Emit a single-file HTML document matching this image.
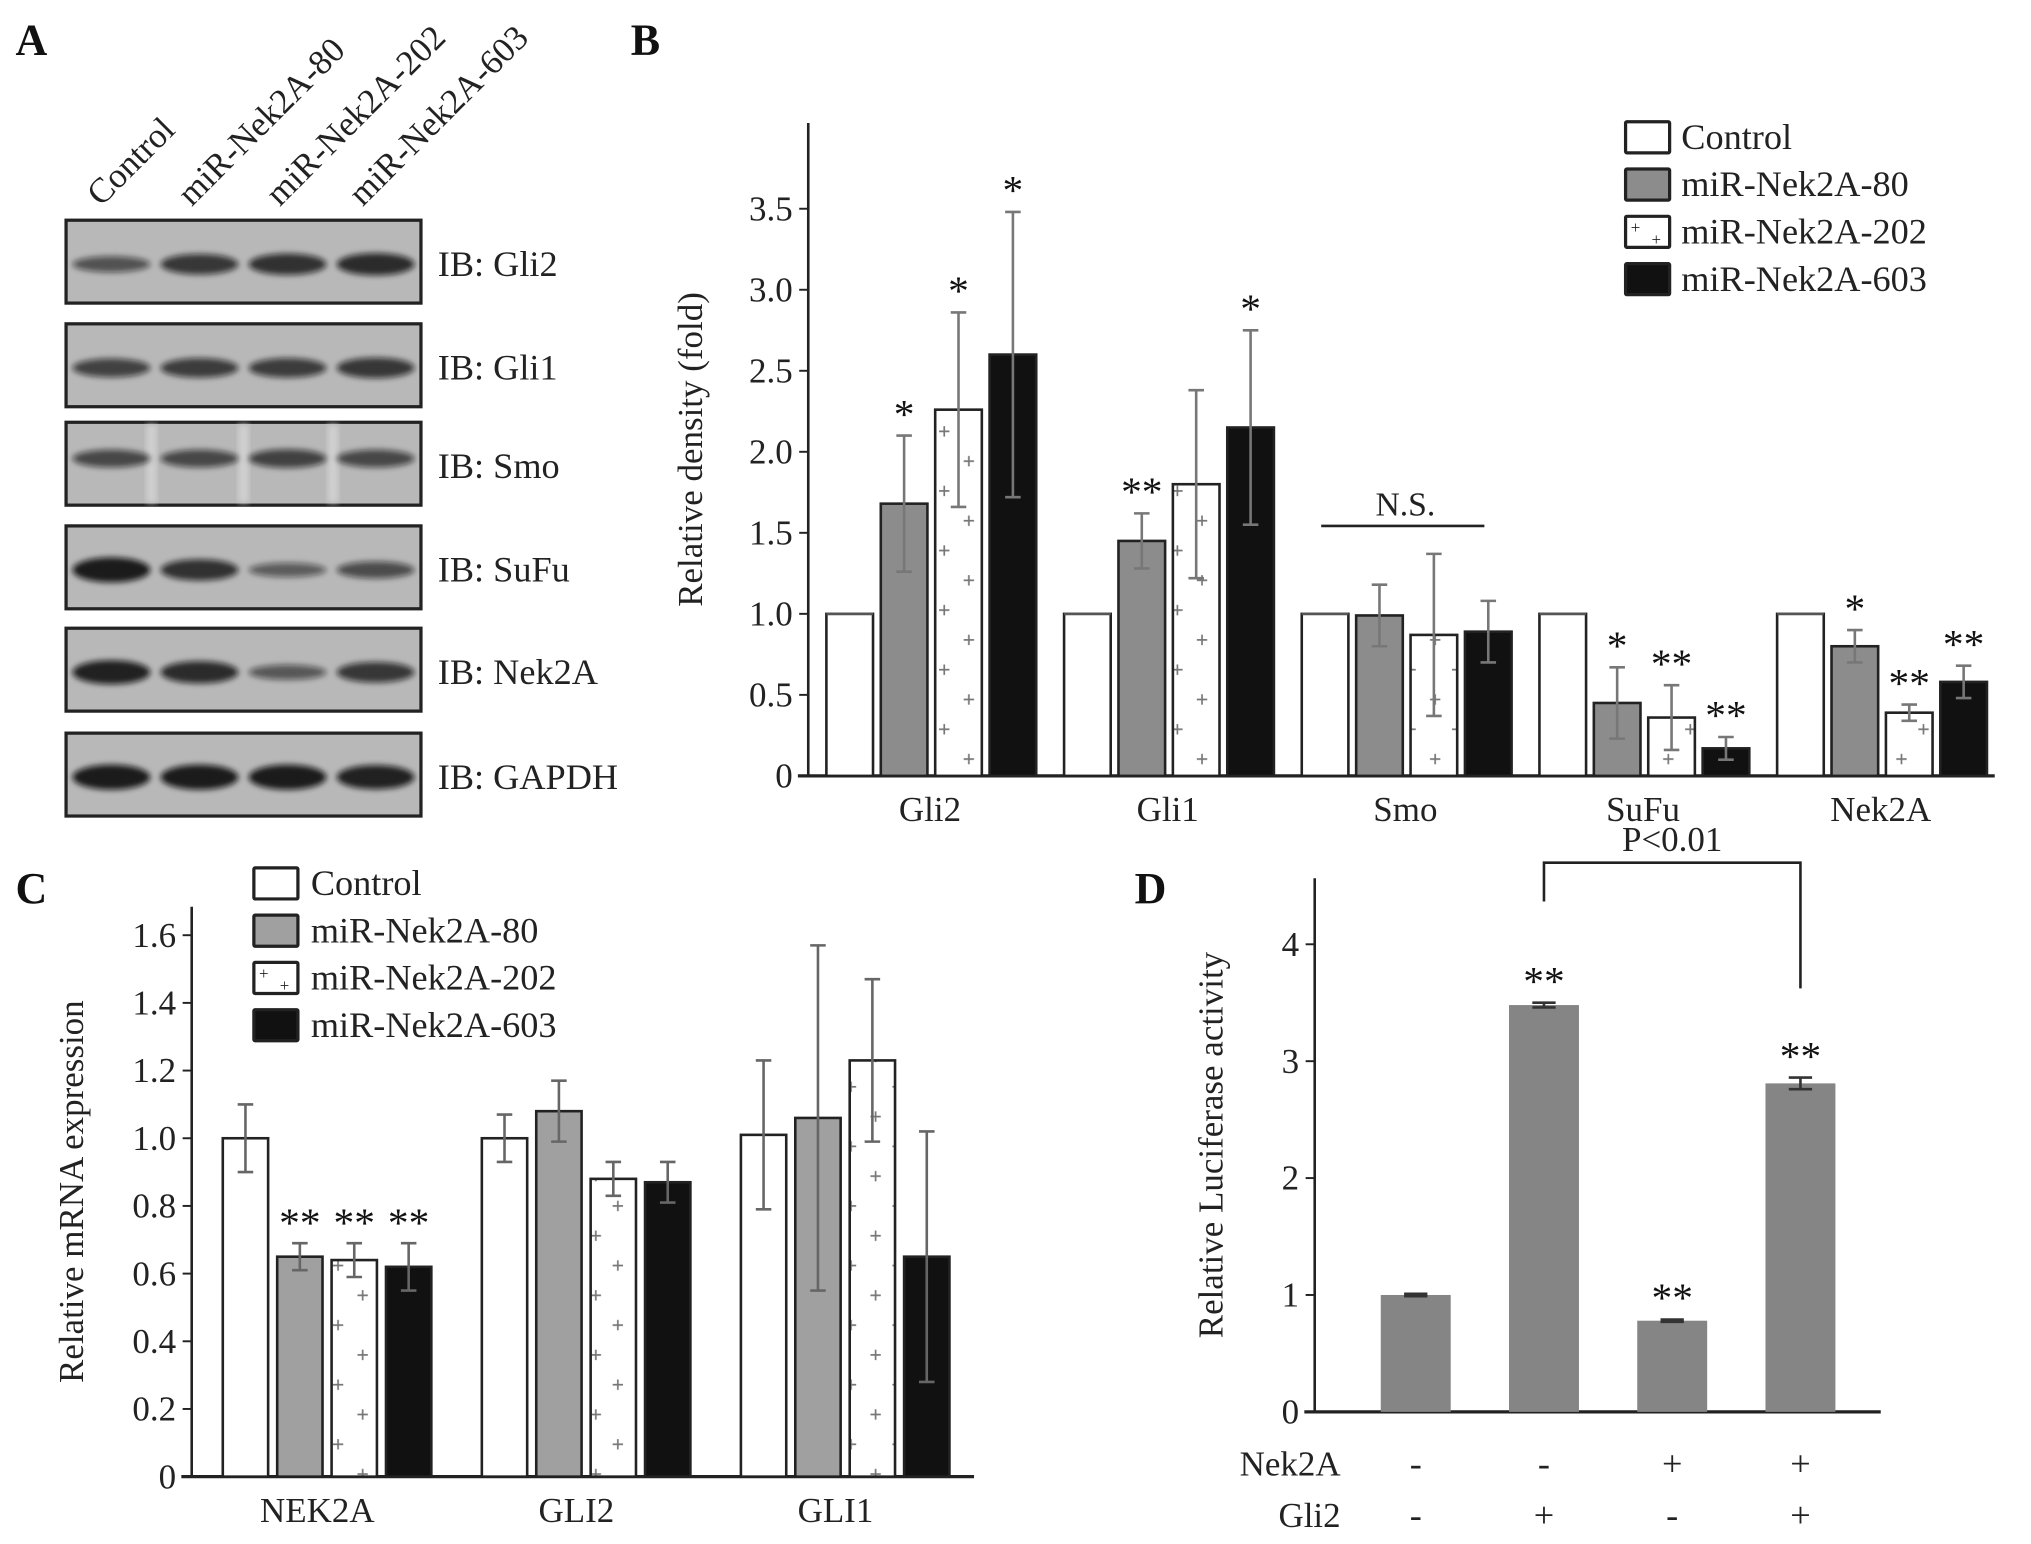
<!DOCTYPE html>
<html><head><meta charset="utf-8">
<style>
html,body{margin:0;padding:0;background:#fff;}
svg{display:block;font-family:"Liberation Serif",serif;}
svg text{font-family:"Liberation Serif","DejaVu Serif",serif;}
</style></head>
<body>
<svg id="fig" width="2031" height="1544" viewBox="0 0 1568 1192" preserveAspectRatio="none" xmlns="http://www.w3.org/2000/svg" font-family="Liberation Serif, serif">
<defs>
<pattern id="plus" patternUnits="userSpaceOnUse" width="36" height="46">
<rect width="36" height="46" fill="#fff"/>
<path d="M5 11h8M9 7v8M24 34h8M28 30v8" stroke="#777" stroke-width="1.3"/>
</pattern>
<filter id="blur" x="-20%" y="-100%" width="140%" height="300%"><feGaussianBlur stdDeviation="2.2"/></filter>
</defs>
<g id="root"></g>
</svg>
<script>
// ---- Panel B data ----
const bCategories = ["Gli2","Gli1","Smo","SuFu","Nek2A"];
const bSeriesNames = ["Control","miR-Nek2A-80","miR-Nek2A-202","miR-Nek2A-603"];
const bControl = [1.0,1.0,1.0,1.0,1.0];
const b80 = [1.68,1.45,0.99,0.45,0.80];
const b202 = [2.26,1.80,0.87,0.36,0.39];
const b603 = [2.60,2.15,0.89,0.17,0.58];
const bErr80 = [0.42,0.17,0.19,0.22,0.10];
const bErr202 = [0.60,0.58,0.50,0.20,0.05];
const bErr603 = [0.88,0.60,0.19,0.07,0.10];
const bStars80 = ["*","**","","*","*"];
const bStars202 = ["*","","","**","**"];
const bStars603 = ["*","*","","**","**"];
const bTicks = [0,0.5,1.0,1.5,2.0,2.5,3.0,3.5];
const bTickLabels = ["0","0.5","1.0","1.5","2.0","2.5","3.0","3.5"];
// ---- Panel C data ----
const cCategories = ["NEK2A","GLI2","GLI1"];
const cControl = [1.00,1.00,1.01];
const c80 = [0.65,1.08,1.06];
const c202 = [0.64,0.88,1.23];
const c603 = [0.62,0.87,0.65];
const cErrControl = [0.10,0.07,0.22];
const cErr80 = [0.04,0.09,0.51];
const cErr202 = [0.05,0.05,0.24];
const cErr603 = [0.07,0.06,0.37];
const cStars80 = ["**","",""];
const cStars202 = ["**","",""];
const cStars603 = ["**","",""];
const cTicks = [0,0.2,0.4,0.6,0.8,1.0,1.2,1.4,1.6];
const cTickLabels = ["0","0.2","0.4","0.6","0.8","1.0","1.2","1.4","1.6"];
// ---- Panel D data ----
const dValues = [1.0,3.48,0.78,2.81];
const dErrors = [0.01,0.02,0.01,0.05];
const dStars = ["","**","**","**"];
const dNek2A = ["-","-","+","+"];
const dGli2 = ["-","+","-","+"];
const dTicks = [0,1,2,3,4];
const dTickLabels = ["0","1","2","3","4"];
// ---- Panel A ----
const aLanes = ["Control","miR-Nek2A-80","miR-Nek2A-202","miR-Nek2A-603"];
const aBlots = ["IB: Gli2","IB: Gli1","IB: Smo","IB: SuFu","IB: Nek2A","IB: GAPDH"];
const aIntensity = [
 [0.45,0.7,0.75,0.8],[0.6,0.65,0.65,0.7],[0.55,0.55,0.6,0.55],
 [0.95,0.75,0.35,0.5],[0.9,0.8,0.4,0.7],[0.95,0.95,0.95,0.9]];

const NS="http://www.w3.org/2000/svg";
const root=document.getElementById('root');
function el(tag,attrs,parent){const e=document.createElementNS(NS,tag);for(const k in attrs)e.setAttribute(k,attrs[k]);(parent||root).appendChild(e);return e;}
function txt(s,x,y,size,attrs,parent){const t=el('text',Object.assign({x:x,y:y,'font-size':size,fill:'#222','font-family':'Liberation Serif, serif'},attrs||{}),parent);t.textContent=s;return t;}

// Panel letters
[["A",12,42],["B",487,42],["C",12,697],["D",876,697]].forEach(p=>{
 const t=txt(p[0],p[1],p[2],34,{'font-weight':'bold',fill:'#111'});
 
 
});

// ---------- Panel A ----------
const gA=el('g',{});


const laneX=[90,160,228,292];
aLanes.forEach((s,i)=>{
 const t=txt(s,laneX[i]-12,160,27,{transform:`rotate(-45 ${laneX[i]-12} 160)`},gA);
 
 
});
const blotY=[170,250,326,406,485,566];
aBlots.forEach((name,r)=>{
 const y=blotY[r];
 const g=el('g',{},gA);
 
 
 el('rect',{x:51,y:y,width:274,height:64,fill:'#b8b8b8',stroke:'#222','stroke-width':2.5},g);
 if(r===2){[117,188,257].forEach(x=>el('rect',{x:x-4,y:y+2,width:8,height:60,fill:'#d0d0d0',filter:'url(#blur)'},g));}
 aIntensity[r].forEach((v,i)=>{
  const cx=86+i*68;
  el('ellipse',{cx:cx,cy:y+(r===2?28:34),rx:30,ry:3+7*v,fill:'#111','fill-opacity':0.35+0.6*v,filter:'url(#blur)'},g);
 });
 const t=txt(name,338,y+43,28,{},g);
 
 
});

// ---------- generic bar helper ----------
function barChart(opt){
 const g=el('g',{});
 
 
 const y=v=>opt.y0-(v-0)*opt.unit;
 opt.ticks.forEach((v,i)=>{
  el('line',{x1:opt.ax-7,x2:opt.ax,y1:y(v),y2:y(v),stroke:'#222','stroke-width':1.5},g);
  const t=txt(opt.tickLabels[i],opt.ax-12,y(v)+9,27,{'text-anchor':'end'},g);
  
  
 });
 el('line',{x1:opt.ax,x2:opt.ax,y1:opt.top,y2:opt.y0,stroke:'#222','stroke-width':2},g);
 el('line',{x1:opt.ax-8,x2:opt.xEnd,y1:opt.y0,y2:opt.y0,stroke:'#222','stroke-width':2.5},g);
 const yt=txt(opt.yTitle,0,0,27,{'text-anchor':'middle',transform:`translate(${opt.titleX},${(opt.top+opt.y0)/2}) rotate(-90)`},g);
 
 
 return {g,y};
}
const fills=['#fff','#8c8c8c','url(#plus)','#111'];

// ---------- Panel B ----------
(function(){
 const o={name:'chart-b',ax:624,y0:599,unit:125.1,top:95,xEnd:1540,ticks:bTicks,tickLabels:bTickLabels,yTitle:'Relative density (fold)',titleX:542};
 const {g,y}=barChart(o);
 const series=[bControl,b80,b202,b603];
 const errs=[null,bErr80,bErr202,bErr603];
 const stars=[null,bStars80,bStars202,bStars603];
 const gx=i=>638+i*183.5;
 bCategories.forEach((c,ci)=>{
  series.forEach((s,si)=>{
   const x=gx(ci)+si*42, v=s[ci];
   const r=el('rect',{x:x,y:y(v),width:36,height:y(0)-y(v),fill:fills[si],stroke:'#222','stroke-width':2},g);
   
   
   if(errs[si]){const e=errs[si][ci],cx=x+18;
    el('path',{d:`M${cx} ${y(v+e)}V${y(v-e)}M${cx-6} ${y(v+e)}h12M${cx-6} ${y(v-e)}h12`,stroke:'#777','stroke-width':2,fill:'none'},g);
    if(stars[si][ci]){const t=txt(stars[si][ci],cx,y(v+e)-6,32,{'text-anchor':'middle',fill:'#111'},g);
     }
   } else {el('line',{x1:x,x2:x+36,y1:y(v),y2:y(v),stroke:'#555','stroke-width':2},g);}
  });
  const t=txt(c,gx(ci)+80,634,27,{'text-anchor':'middle'},g);
  
 });
 el('line',{x1:1020,x2:1146,y1:406,y2:406,stroke:'#222','stroke-width':2},g);
 const ns=txt('N.S.',1085,398,26,{'text-anchor':'middle'},g);
 
 const leg=el('g',{},g);
 
 bSeriesNames.forEach((s,i)=>{
  const yy=94+i*36.5;
  el('rect',{x:1255,y:yy,width:34,height:24,fill:i===2?'#fff':fills[i],stroke:'#222','stroke-width':2.5,rx:1},leg);
  if(i===2){txt('+',1259,yy+13,13,{},leg);txt('+',1275,yy+22,13,{},leg);}
  const t=txt(s,1298,yy+21,28,{},leg);
  
 });
})();

// ---------- Panel C ----------
(function(){
 const o={name:'chart-c',ax:148,y0:1140,unit:261.25,top:700,xEnd:752,ticks:cTicks,tickLabels:cTickLabels,yTitle:'Relative mRNA expression',titleX:64};
 const {g,y}=barChart(o);
 const series=[cControl,c80,c202,c603];
 const errs=[cErrControl,cErr80,cErr202,cErr603];
 const stars=[null,cStars80,cStars202,cStars603];
 const gx=i=>172+i*200;
 cCategories.forEach((c,ci)=>{
  series.forEach((s,si)=>{
   const x=gx(ci)+si*42, v=s[ci];
   const r=el('rect',{x:x,y:y(v),width:35,height:y(0)-y(v),fill:si===1?'#a0a0a0':fills[si],stroke:'#222','stroke-width':2},g);
   
   
   const e=errs[si][ci],cx=x+17.5;
   el('path',{d:`M${cx} ${y(v+e)}V${y(v-e)}M${cx-6} ${y(v+e)}h12M${cx-6} ${y(v-e)}h12`,stroke:'#666','stroke-width':2,fill:'none'},g);
   if(stars[si]&&stars[si][ci]){const t=txt(stars[si][ci],cx,y(v+e)-5,32,{'text-anchor':'middle',fill:'#111'},g);
    }
  });
  const t=txt(c,gx(ci)+73,1175,27,{'text-anchor':'middle'},g);
  
 });
 const leg=el('g',{},g);
 
 bSeriesNames.forEach((s,i)=>{
  const yy=670+i*36.5;
  el('rect',{x:196,y:yy,width:34,height:24,fill:i===2?'#fff':(i===1?'#a0a0a0':fills[i]),stroke:'#222','stroke-width':2.5,rx:1},leg);
  if(i===2){txt('+',200,yy+13,13,{},leg);txt('+',216,yy+22,13,{},leg);}
  const t=txt(s,240,yy+21,28,{},leg);
  
 });
})();

// ---------- Panel D ----------
(function(){
 const o={name:'chart-d',ax:1015,y0:1090,unit:90.25,top:678,xEnd:1452,ticks:dTicks,tickLabels:dTickLabels,yTitle:'Relative Luciferase activity',titleX:944};
 const {g,y}=barChart(o);
 const gx=i=>1066+i*99;
 dValues.forEach((v,i)=>{
  const x=gx(i);
  const r=el('rect',{x:x,y:y(v),width:54,height:y(0)-y(v),fill:'#858585'},g);
  
  const e=dErrors[i],cx=x+27;
  el('path',{d:`M${cx} ${y(v+e)}V${y(v-e)}M${cx-9} ${y(v+e)}h18M${cx-9} ${y(v-e)}h18`,stroke:'#333','stroke-width':2,fill:'none'},g);
  if(dStars[i]){const t=txt(dStars[i],cx,y(v+e)-6,32,{'text-anchor':'middle',fill:'#111'},g);
   }
  const a=txt(dNek2A[i],cx,1139,28,{'text-anchor':'middle'},g);
  
  const b=txt(dGli2[i],cx,1179,28,{'text-anchor':'middle'},g);
  
 });
 const l1=txt('Nek2A',1035,1139,27,{'text-anchor':'end'},g);
 
 const l2=txt('Gli2',1035,1179,27,{'text-anchor':'end'},g);
 
 const x1=gx(1)+27,x2=gx(3)+27;
 el('path',{d:`M${x1} 696V666H${x2}V763`,stroke:'#222','stroke-width':2,fill:'none'},g);
 const p=txt('P<0.01',(x1+x2)/2,657,27,{'text-anchor':'middle'},g);
 
})();
</script>
</body></html>
